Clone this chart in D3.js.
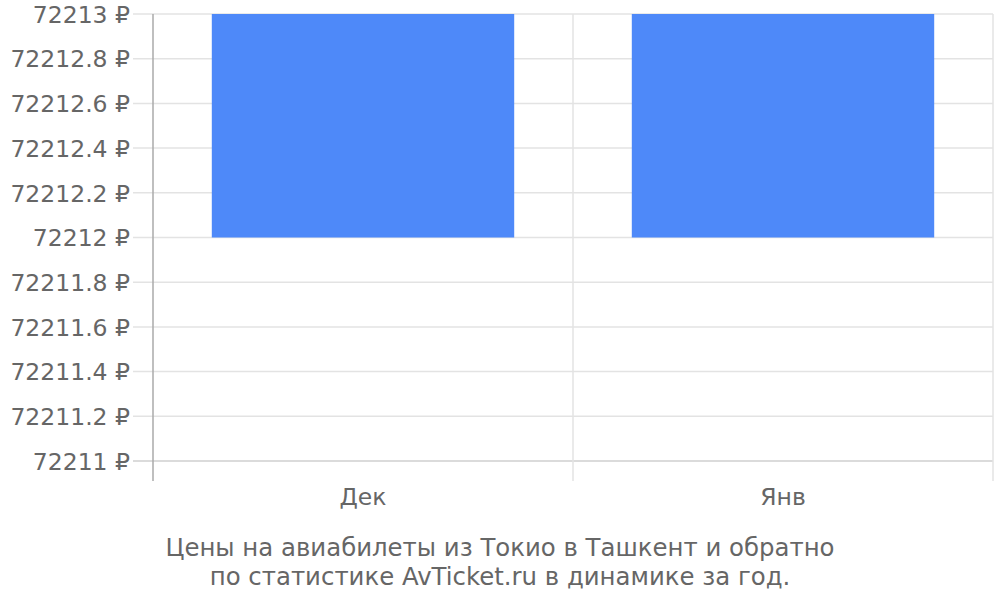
<!DOCTYPE html>
<html>
<head>
<meta charset="utf-8">
<script src="https://cdn.jsdelivr.net/npm/d3@7"></script>
<style>
  body { margin: 0; background: #fff; }
  text { font-family: "DejaVu Sans", sans-serif; fill: #666; }
</style>
</head>
<body>
<div id="plot"></div>
<script>
var months = ["Дек", "Янв"];
var prices = [72212, 72212];
var yDomain = [72211, 72213];
var yTicks = [72211, 72211.2, 72211.4, 72211.6, 72211.8, 72212, 72212.2, 72212.4, 72212.6, 72212.8, 72213];
var caption = ["Цены на авиабилеты из Токио в Ташкент и обратно",
               "по статистике AvTicket.ru в динамике за год."];

var margin = {top: 14, right: 7, bottom: 139, left: 153}
  , width = 1000 - margin.left - margin.right
  , height = 600 - margin.top - margin.bottom;

var svg = d3.select('#plot')
  .append('svg')
  .attr('width', 1000)
  .attr('height', 600);

var main = svg.append('g')
  .attr('transform', 'translate(' + margin.left + ',' + margin.top + ')');

var x = d3.scaleBand()
  .domain(months)
  .range([0, width])
  .padding(0);

var y = d3.scaleLinear()
  .domain(yDomain)
  .range([height, 0]);

// horizontal grid + left ticks
main.append('g')
  .selectAll('line')
  .data(yTicks)
  .enter().append('line')
    .attr('x1', -20)
    .attr('x2', width)
    .attr('y1', function (d) { return y(d); })
    .attr('y2', function (d) { return y(d); })
    .style('stroke', function (d, i) { return i === 0 ? '#cfcfcf' : '#e3e3e3'; })
    .style('stroke-width', 1.5);

// vertical grid at band edges
var edges = [0].concat(months.map(function (m) { return x(m) + x.bandwidth(); }));
main.append('g')
  .selectAll('line')
  .data(edges)
  .enter().append('line')
    .attr('x1', function (d) { return d; })
    .attr('x2', function (d) { return d; })
    .attr('y1', 0)
    .attr('y2', height + 20)
    .style('stroke', function (d, i) { return i === 0 ? '#aaa' : '#e3e3e3'; })
    .style('stroke-width', 1.5);

// bars
var barW = x.bandwidth() * 0.72;
main.append('g')
  .selectAll('rect')
  .data(prices)
  .enter().append('rect')
    .attr('x', function (d, i) { return x(months[i]) + (x.bandwidth() - barW) / 2; })
    .attr('y', y(yDomain[1]))
    .attr('width', barW)
    .attr('height', function (d) { return y(d) - y(yDomain[1]); })
    .style('fill', '#4e89f9');

// y labels
var yAxis = d3.axisLeft(y)
  .tickValues(yTicks)
  .tickSize(0)
  .tickPadding(23)
  .tickFormat(function (d) { return d3.format('')(+d.toFixed(1)) + ' ₽'; });

var ya = main.append('g').call(yAxis);
ya.select('.domain').remove();
ya.selectAll('text').style('font-size', '23.5px').style('fill', '#666')
  .attr('dy', '0.35em');

// x labels
var xa = main.append('g')
  .attr('transform', 'translate(0,' + height + ')');
xa.selectAll('text')
  .data(months)
  .enter().append('text')
    .attr('x', function (d) { return x(d) + x.bandwidth() / 2; })
    .attr('y', 44)
    .attr('text-anchor', 'middle')
    .style('font-size', '23.5px')
    .text(function (d) { return d; });

// caption
svg.append('g')
  .selectAll('text')
  .data(caption)
  .enter().append('text')
    .attr('x', 500)
    .attr('y', function (d, i) { return 556 + i * 29; })
    .attr('text-anchor', 'middle')
    .style('font-size', '24.4px')
    .text(function (d) { return d; });
</script>
</body>
</html>
